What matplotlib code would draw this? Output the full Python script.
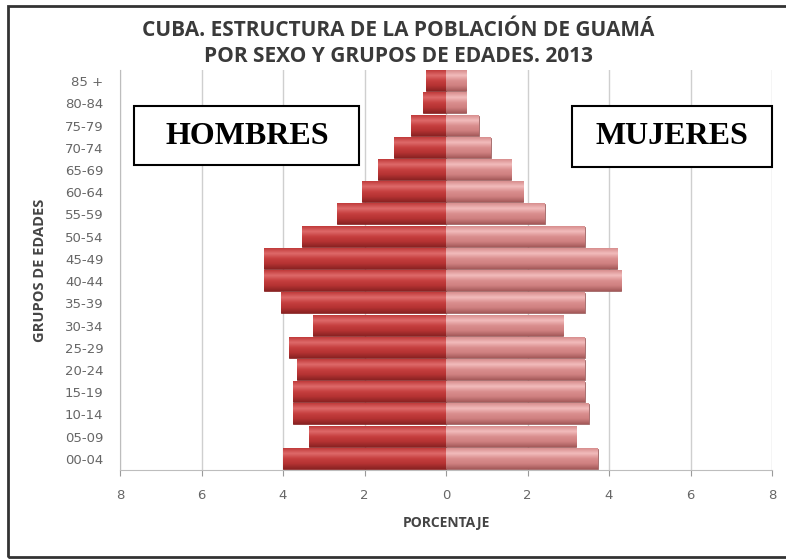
import matplotlib.pyplot as plt
import numpy as np
from matplotlib.patches import Rectangle
from matplotlib.colors import LinearSegmentedColormap

# grupos de edades, de abajo hacia arriba
grupos = ['00-04', '05-09', '10-14', '15-19', '20-24', '25-29', '30-34', '35-39', '40-44',
          '45-49', '50-54', '55-59', '60-64', '65-69', '70-74', '75-79', '80-84', '85 +']
hombres = [3.99, 3.36, 3.76, 3.76, 3.66, 3.85, 3.26, 4.04, 4.46,
           4.46, 3.54, 2.67, 2.06, 1.67, 1.27, 0.87, 0.56, 0.48]
mujeres = [3.72, 3.2, 3.5, 3.4, 3.4, 3.4, 2.88, 3.4, 4.3,
           4.2, 3.4, 2.42, 1.9, 1.6, 1.1, 0.8, 0.5, 0.5]
xticks = [-8, -6, -4, -2, 0, 2, 4, 6, 8]
xticklabels = ['8', '6', '4', '2', '0', '2', '4', '6', '8']

fig = plt.figure(figsize=(7.86, 5.59), dpi=100)
ax = fig.add_axes([0.1527, 0.1592, 0.8295, 0.7156])

y = np.arange(len(grupos))
b_h = ax.barh(y, [-v for v in hombres], height=0.9, color='#c0393a', edgecolor='#7a1a1a', linewidth=0.5, zorder=3)
b_m = ax.barh(y, mujeres, height=0.9, color='#d98a8a', edgecolor='#8e5050', linewidth=0.5, zorder=3)

# sombreado tipo excel
cm_h = LinearSegmentedColormap.from_list('h', ['#8a2222', '#b43232', '#c63f3f', '#de6a6a', '#c03a3a'])
cm_m = LinearSegmentedColormap.from_list('m', ['#a45a5a', '#cf8080', '#da8e8e', '#f2bcbc', '#d88e8e'])
grad = np.linspace(0, 1, 64).reshape(-1, 1)
for bars, cm in [(b_h, cm_h), (b_m, cm_m)]:
    for b in bars:
        x0, y0, w, h = b.get_x(), b.get_y(), b.get_width(), b.get_height()
        ax.imshow(grad, extent=[x0, x0 + w, y0, y0 + h], origin='lower', aspect='auto',
                  cmap=cm, zorder=3.5, interpolation='bilinear')

ax.set_xlim(-8, 8)
ax.set_ylim(-0.5, len(grupos) - 0.5)
ax.set_aspect('auto')
ax.set_xticks(xticks)
ax.set_xticklabels(xticklabels)
ax.set_yticks(y)
ax.set_yticklabels(grupos)
ax.tick_params(axis='both', colors='#9a9a9a', labelcolor='#666666', labelsize=9.5)
ax.tick_params(axis='y', length=0, pad=12)
ax.tick_params(axis='x', length=4, pad=10)
ax.grid(axis='x', color='#cfcfcf', linewidth=1, zorder=0)
for s in ['top', 'right']:
    ax.spines[s].set_visible(False)
ax.spines['left'].set_color('#bdbdbd')
ax.spines['bottom'].set_color('#bdbdbd')

ax.set_xlabel('PORCENTAJE', fontsize=10, fontweight='bold', color='#444444',
              family='Open Sans', labelpad=10)
ax.set_ylabel('GRUPOS DE EDADES', fontsize=10.5, fontweight='bold', color='#444444',
              family='Open Sans', labelpad=13)

fig.text(0.507, 1 - 31 / 559, 'CUBA. ESTRUCTURA DE LA POBLACIÓN DE GUAMÁ', ha='center', va='center',
         fontsize=15, fontweight='bold', color='#3a3a3a', family='Open Sans')
fig.text(0.507, 1 - 56 / 559, 'POR SEXO Y GRUPOS DE EDADES. 2013', ha='center', va='center',
         fontsize=15, fontweight='bold', color='#3a3a3a', family='Open Sans')

# cuadros de texto
fig.patches.append(Rectangle((134 / 786, 1 - 165 / 559), 225 / 786, 59 / 559,
                             transform=fig.transFigure, facecolor='white',
                             edgecolor='black', linewidth=1.5, zorder=5))
fig.text(247 / 786, 1 - 136 / 559, 'HOMBRES', ha='center', va='center', fontsize=23,
         fontweight='bold', family='Liberation Serif', zorder=6)
fig.patches.append(Rectangle((572 / 786, 1 - 167 / 559), 200 / 786, 61 / 559,
                             transform=fig.transFigure, facecolor='white',
                             edgecolor='black', linewidth=1.5, zorder=5))
fig.text(672 / 786, 1 - 137 / 559, 'MUJERES', ha='center', va='center', fontsize=23,
         fontweight='bold', family='Liberation Serif', zorder=6)

# marco exterior
fig.patches.append(Rectangle((8 / 786, 2 / 559), 790 / 786, 551 / 559,
                             transform=fig.transFigure, fill=False,
                             edgecolor='#333333', linewidth=2, zorder=0))

fig.savefig('out.png', dpi=100)
